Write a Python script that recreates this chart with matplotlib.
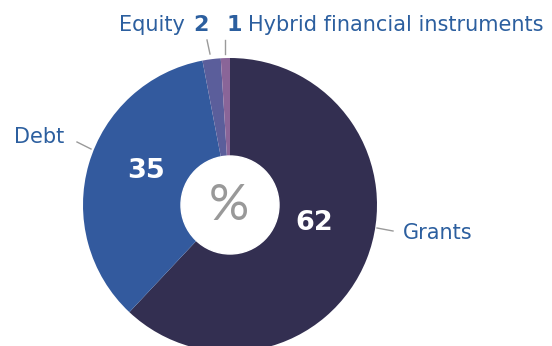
import matplotlib.pyplot as plt
from matplotlib.patches import Circle

# share of funding by instrument (%)
instruments = ['Grants', 'Debt', 'Equity', 'Hybrid financial instruments']
shares = [62, 35, 2, 1]
slice_colors = ['#332f51', '#335a9e', '#5b5e9b', '#8a6598']

W, H = 552, 346
label_blue = '#2c5f9f'
leader_grey = '#9a9a9a'
label_size = 15


def py(y):
    # pixel rows run downward, data y runs upward
    return H - y


fig = plt.figure(figsize=(W / 100, H / 100), dpi=100)
ax = fig.add_axes([0, 0, 1, 1])

cx, cy, r = 230, py(205), 147
ax.pie(shares, colors=slice_colors, startangle=90, counterclock=False,
       center=(cx, cy), radius=r, wedgeprops=dict(linewidth=0))
ax.add_patch(Circle((cx, cy), 49, color='white', zorder=5))
ax.text(cx - 1, py(220), '%', ha='center', va='baseline', fontsize=36,
        color='#999999', family='Lato', zorder=6)

# values inside the two big slices
ax.text(146.5, py(178), str(shares[1]), ha='center', va='baseline',
        fontsize=19.5, fontweight='bold', color='white')
ax.text(314.5, py(230), str(shares[0]), ha='center', va='baseline',
        fontsize=19.5, fontweight='bold', color='white')

# category labels with leader lines
ax.plot([77, 91], [py(142), py(149)], color=leader_grey, lw=1)
ax.text(14, py(143), instruments[1], ha='left', va='baseline',
        fontsize=label_size, color=label_blue)

ax.plot([377, 393], [py(228), py(231)], color=leader_grey, lw=1)
ax.text(403, py(239), instruments[0], ha='left', va='baseline',
        fontsize=label_size, color=label_blue)

ax.plot([207, 210], [py(40), py(54)], color=leader_grey, lw=1)
ax.text(185, py(31), instruments[2], ha='right', va='baseline',
        fontsize=label_size, color=label_blue)
ax.text(193, py(31), str(shares[2]), ha='left', va='baseline',
        fontsize=16, fontweight='bold', color=label_blue)

ax.plot([225, 225], [py(40), py(54)], color=leader_grey, lw=1)
ax.text(242, py(31), str(shares[3]), ha='right', va='baseline',
        fontsize=16, fontweight='bold', color=label_blue)
ax.text(248, py(31), instruments[3], ha='left', va='baseline',
        fontsize=label_size, color=label_blue)

ax.set_xlim(0, W)
ax.set_ylim(0, H)
ax.set_aspect('equal')
ax.axis('off')

fig.savefig('out.png', dpi=100)
